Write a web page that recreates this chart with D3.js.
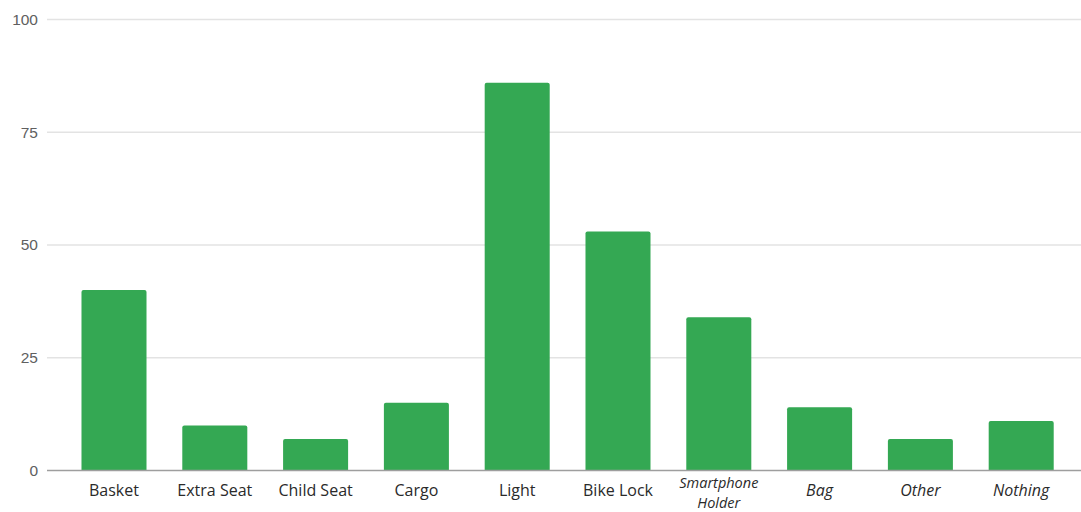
<!DOCTYPE html>
<html>
<head>
<meta charset="utf-8">
<script src="https://cdn.jsdelivr.net/npm/d3@7"></script>
<style>
html,body{margin:0;padding:0;background:#fff;}
svg{display:block;}
</style>
</head>
<body>
<svg id="chart" width="1081" height="512"></svg>
<script>
const categories = ["Basket","Extra Seat","Child Seat","Cargo","Light","Bike Lock","Smartphone Holder","Bag","Other","Nothing"];
const values = [40,10,7,15,86,53,34,14,7,11];
const italicCats = ["Smartphone Holder","Bag","Other","Nothing"];
const yTicks = [0,25,50,75,100];

const svg = d3.select("#chart");
const gridLeft = 47, gridRight = 1081;
const x = d3.scaleBand().domain(categories).range([63.6, 1071.6]).paddingInner(0.355).paddingOuter(0.1775);
const y = d3.scaleLinear().domain([0,100]).range([470.5, 19.5]);

// gridlines
svg.append("g").selectAll("line").data(yTicks.filter(d=>d>0)).join("line")
  .attr("x1", gridLeft).attr("x2", gridRight)
  .attr("y1", d=>y(d)).attr("y2", d=>y(d))
  .attr("stroke", "#e3e3e3").attr("stroke-width", 1.5);

// y tick labels
svg.append("g").selectAll("text").data(yTicks).join("text")
  .attr("x", 38).attr("y", d=>y(d)).attr("dy","0.35em")
  .attr("text-anchor","end")
  .attr("font-family","'Liberation Sans', Arial, sans-serif")
  .attr("font-size", 15.5).attr("fill","#606060")
  .text(d=>d);

// bars
svg.append("g").selectAll("path").data(categories).join("path")
  .attr("fill","#34a853")
  .attr("d", (c,i)=>{
    const x0 = x(c), w = x.bandwidth(), y0 = y(values[i]), y1 = y(0), r = 2;
    return `M${x0},${y1}V${y0+r}Q${x0},${y0} ${x0+r},${y0}H${x0+w-r}Q${x0+w},${y0} ${x0+w},${y0+r}V${y1}Z`;
  });

// baseline
svg.append("line").attr("x1", gridLeft).attr("x2", gridRight)
  .attr("y1", y(0)).attr("y2", y(0)).attr("stroke","#9e9e9e").attr("stroke-width",1.5);

// x labels
const lbl = svg.append("g");
categories.forEach(c => {
  const cx = x(c) + x.bandwidth()/2;
  const lines = c === "Smartphone Holder" ? ["Smartphone","Holder"] : [c];
  const fs = lines.length > 1 ? 14.5 : 16;
  const ys = lines.length > 1 ? [483, 502.6] : [490];
  lines.forEach((t, k) => {
    lbl.append("text")
      .attr("x", cx).attr("y", ys[k]).attr("dy","0.35em")
      .attr("text-anchor","middle")
      .attr("font-family","'Open Sans', 'Noto Sans', sans-serif")
      .attr("font-size", fs).attr("fill","#2a2a2a")
      .attr("font-style", italicCats.includes(c) ? "italic" : "normal")
      .text(t);
  });
});
</script>
</body>
</html>
